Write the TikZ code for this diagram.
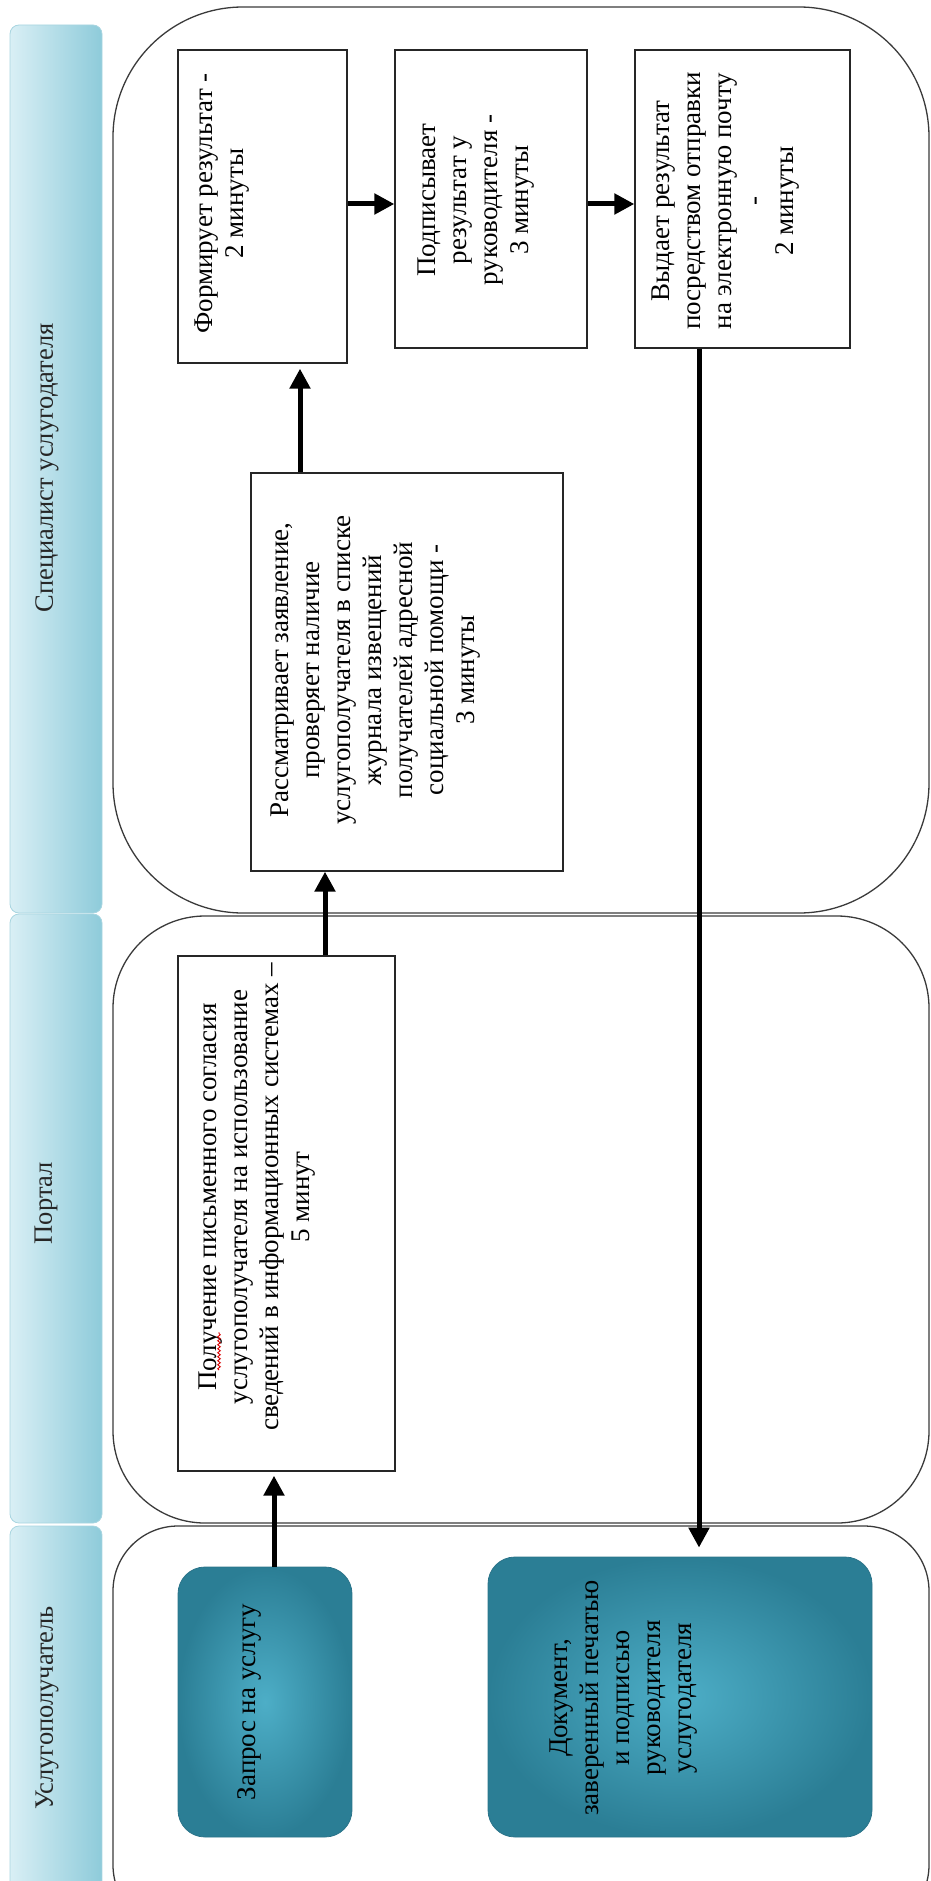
\documentclass[tikz,border=0pt]{standalone}
\usepackage{fontspec}
\setmainfont{Liberation Serif}
\usetikzlibrary{arrows.meta,calc,decorations.pathmorphing}
\definecolor{laneline}{HTML}{3A3A3A}
\definecolor{hdrL}{HTML}{D9EFF5}
\definecolor{hdrR}{HTML}{8ECBDA}
\definecolor{hdredge}{HTML}{A8D5E0}
\definecolor{tealin}{HTML}{4DAEC7}
\definecolor{tealout}{HTML}{2B7E95}
\definecolor{tealedge}{HTML}{2A7389}
\definecolor{hdrtext}{HTML}{262626}
\begin{document}
\begin{tikzpicture}[x=1pt,y=-1pt,
  lane/.style={draw=laneline, line width=1.3pt, rounded corners=#1, minimum width=816pt, inner sep=0pt},
  hdr/.style={draw=hdredge, line width=0.8pt, rounded corners=9pt, left color=hdrL, right color=hdrR, minimum width=92pt, inner sep=0pt},
  wbox/.style={draw=black!85, line width=1.3pt, fill=white, inner sep=0pt},
  tbox/.style={draw=tealedge, line width=0.8pt, rounded corners=27pt, inner color=tealin, outer color=tealout, inner sep=0pt},
  txt/.style={rotate=90, inner sep=0pt, align=center, font=\fontsize{27}{31}\selectfont},
  htxt/.style={rotate=90, inner sep=0pt, text=hdrtext, font=\fontsize{26.5}{31}\selectfont},
  arr/.style={line width=5pt, -{Triangle[width=20pt,length=20pt]}}
]
\useasboundingbox (0,0) rectangle (931,1881);
\clip (0,0) rectangle (931,1881);

% headers
\node[hdr, minimum height=888pt] (h1) at (56,469) {};
\node[hdr, minimum height=609pt] (h2) at (56,1218.5) {};
\node[hdr, minimum height=370pt] (h3) at (56,1711) {};
\node[htxt] (ht1) at (47,468) {Специалист услугодателя};
\node[htxt] (ht2) at (46,1203) {Портал};
\node[htxt] (ht3) at (47,1708) {Услугополучатель};

% lanes
\node[lane=130pt, minimum height=906pt] (l1) at (521,460) {};
\node[lane=92pt, minimum height=607pt] (l2) at (521,1219.5) {};
\node[lane=65pt, minimum height=404pt] (l3) at (521,1728) {};

% boxes
\node[wbox, minimum width=169pt, minimum height=313pt] (b1) at (262.5,206.5) {};
\node[wbox, minimum width=192pt, minimum height=298pt] (b2) at (491,199) {};
\node[wbox, minimum width=215pt, minimum height=298pt] (b3) at (742.5,199) {};
\node[wbox, minimum width=312pt, minimum height=398pt] (b4) at (407,672) {};
\node[wbox, minimum width=217pt, minimum height=515pt] (b5) at (286.5,1213.5) {};
\node[tbox, minimum width=174pt, minimum height=270pt] (b6) at (265,1702) {};
\node[tbox, minimum width=384pt, minimum height=280pt] (b7) at (680,1697) {};

% connectors
\coordinate (xa) at (274,0);
\coordinate (xb) at (325,0);
\coordinate (xc) at (300,0);
\coordinate (xd) at (699,0);
\coordinate (yh) at (0,204);
\draw[arr, shorten >=4pt] (xa |- b6.north) -- (xa |- b5.south);
\draw[arr] (xb |- b5.north) -- (xb |- b4.south);
\draw[arr, shorten >=5pt] (xc |- b4.north) -- (xc |- b1.south);
\draw[arr] (b1.east |- yh) -- (b2.west |- yh);
\draw[arr] (b2.east |- yh) -- (b3.west |- yh);
\draw[arr, shorten >=9pt] (xd |- b3.south) -- (xd |- b7.north);

% texts
\node[txt] (t1) at (222.5,203.5) {Формирует результат -\\2 минуты};
\node[txt] (t2) at (476,200) {Подписывает\\результат у\\руководителя -\\3 минуты};
\node[txt] (t3) at (726,201) {Выдает результат\\посредством отправки\\на электронную почту\\-\\2 минуты};
\node[txt] (t4) at (375.5,670) {Рассматривает заявление,\\проверяет наличие\\услугополучателя в списке\\журнала извещений\\получателей адресной\\социальной помощи -\\3 минуты};
\node[txt] (t5) at (257,1197) {Получение письменного согласия\\услугополучателя на использование\\сведений в информационных системах –\\5 минут};
\node[txt] (t6) at (249,1702) {Запрос на услугу};
\node[txt] (t7) at (624,1698) {Документ,\\заверенный печатью\\и подписью\\руководителя\\услугодателя};

% spelling mark
\draw[red!85!black, line width=0.9pt, decorate, decoration={snake, amplitude=1.3pt, segment length=4pt}] (219,1370) -- (219,1332);
\end{tikzpicture}
\end{document}
